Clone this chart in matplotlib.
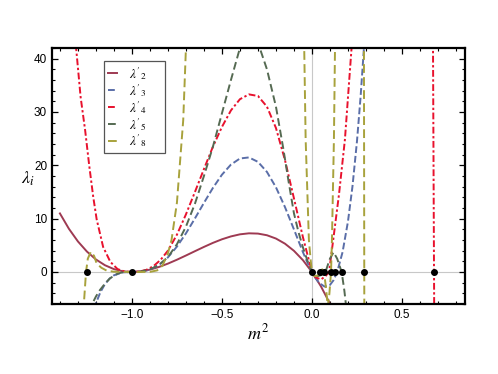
import matplotlib
matplotlib.use("Agg")
import matplotlib.pyplot as plt
from matplotlib.ticker import MultipleLocator

plt.rcParams['font.family'] = ['Liberation Sans', 'DejaVu Sans']
plt.rcParams['mathtext.fontset'] = 'stix'

# curves (m^2, lambda)
m2 = [-1.4, -1.35, -1.3, -1.25, -1.2, -1.15, -1.1, -1.05, -1.0, -0.95, -0.9,
      -0.85, -0.8, -0.75, -0.7, -0.65, -0.6, -0.55, -0.5, -0.45, -0.4, -0.35,
      -0.3, -0.25, -0.2, -0.15, -0.1, -0.05, 0.0, 0.05, 0.1, 0.12]
l2 = [10.98, 8.10, 5.73, 3.83, 2.35, 1.27, 0.54, 0.13, 0.0, 0.12, 0.44,
      0.94, 1.57, 2.30, 3.09, 3.90, 4.70, 5.46, 6.13, 6.67, 7.06, 7.25,
      7.20, 6.89, 6.27, 5.31, 3.97, 2.21, 0.0, -2.70, -5.93, -7.38]

m3 = [-1.21, -1.2, -1.175, -1.15, -1.125, -1.1, -1.05, -1.0, -0.95, -0.9,
      -0.85, -0.8, -0.75, -0.7, -0.65, -0.6, -0.55, -0.5, -0.45, -0.4, -0.35,
      -0.3, -0.25, -0.2, -0.15, -0.1, -0.05, -0.025, 0.0, 0.02, 0.04, 0.07,
      0.1, 0.12, 0.14, 0.17, 0.2, 0.225, 0.25, 0.27, 0.29, 0.3]
l3 = [-6.90, -5.87, -3.78, -2.28, -1.27, -0.62, -0.07, 0.0, 0.06, 0.43,
      1.30, 2.74, 4.76, 7.24, 10.04, 12.96, 15.77, 18.24, 20.14, 21.28, 21.48,
      20.65, 18.76, 15.88, 12.18, 7.98, 3.71, 1.74, 0.0, -1.16, -2.05, -2.74,
      -2.43, -1.54, 0.0, 3.72, 9.46, 16.03, 24.49, 32.79, 42.6, 48.1]

m4 = [-1.32, -1.31, -1.285, -1.26, -1.237, -1.215, -1.196, -1.16, -1.12, -1.08,
      -1.04, -1.0, -0.96, -0.92, -0.88, -0.84, -0.8, -0.75, -0.7, -0.65, -0.6,
      -0.55, -0.5, -0.45, -0.4, -0.35, -0.3, -0.25, -0.2, -0.15, -0.1, -0.05,
      0.0, 0.02, 0.05, 0.075, 0.095, 0.118, 0.15, 0.183, 0.22, 0.26, 0.4, 0.6,
      0.67, 0.678, 0.686]
l4 = [48, 42, 32.8, 26.6, 19.9, 14.1, 9.9, 4.7, 1.9, 0.55,
      0.08, 0.0, 0.08, 0.4, 1.1, 2.3, 4.0, 7.0, 10.8, 15.0, 19.3,
      23.5, 27.2, 30.3, 32.4, 33.3, 33.0, 31.0, 27.0, 21.0, 13.8, 6.5,
      0.0, -1.0, -1.4, -0.8, 0.0, 6.0, 14.5, 24.8, 42.0, 70, 150, 150,
      60, 0.0, -60]

m5 = [-1.235, -1.221, -1.2, -1.178, -1.15, -1.122, -1.1, -1.076, -1.05, -1.0,
      -0.95, -0.9, -0.85, -0.8, -0.75, -0.7, -0.65, -0.6, -0.55, -0.51, -0.45,
      -0.4, -0.34, -0.29, -0.25, -0.2, -0.16, -0.13, -0.1, -0.075, -0.05,
      -0.025, 0.0, 0.03, 0.05, 0.08, 0.1, 0.12, 0.14, 0.165, 0.18, 0.19]
l5 = [-7.5, -6.0, -4.6, -3.4, -2.2, -1.2, -0.7, -0.25, -0.06, 0.0,
      0.1, 0.5, 1.3, 2.8, 5.2, 8.5, 12.8, 18.0, 23.5, 28.5, 36.0,
      42.0, 44.5, 42.0, 38.0, 31.0, 23.3, 17.0, 11.0, 7.5, 4.6,
      2.1, 0.0, -0.8, -0.6, 0.5, 2.5, 3.7, 2.5, 0.0, -3.5, -6.5]

m8 = [-1.275, -1.267, -1.255, -1.245, -1.228, -1.21, -1.196, -1.17, -1.14,
      -1.1, -1.0, -0.9, -0.86, -0.83, -0.8, -0.78, -0.75, -0.715, -0.70, -0.69,
      -0.5, -0.2, -0.05, -0.043, -0.035, -0.017, -0.008, 0.0, 0.015, 0.03,
      0.047, 0.057, 0.067, 0.078, 0.088, 0.097, 0.106, 0.111, 0.122, 0.128,
      0.15, 0.2, 0.28, 0.288, 0.2905, 0.293]
l8 = [-10, -6.0, 0.0, 2.5, 3.8, 3.0, 1.6, 0.8, 0.25,
      0.05, 0.0, 0.02, 0.3, 1.2, 3.5, 6.0, 13.0, 28.5, 42.0, 55,
      200, 200, 60, 42.0, 24.8, 6.0, 2.5, 0.0, -0.8, -0.7,
      0.0, 0.5, 0.0, -3.0, -6.5, -4.0, 0.0, 6.0, 24.8, 42.0,
      100, 200, 100, 60, 0.0, -60]

roots = [-1.25, -1.0, 0.0, 0.047, 0.067, 0.106, 0.13, 0.165, 0.29, 0.678]

fig = plt.figure(figsize=(4.98, 3.74), dpi=100)
ax = fig.add_axes([0.1044, 0.1872, 0.8293, 0.6845])

ax.axhline(0, color='#c8c8c8', lw=0.8, zorder=0)
ax.axvline(0, color='#c8c8c8', lw=0.8, zorder=0)

pad = '\u2002\u2002\u2002'
ax.plot(m2, l2, color='#9e3a52', lw=1.4, label=r"$\lambda'_2$" + pad)
ax.plot(m3, l3, color='#5a6ea8', lw=1.4, dashes=(3.5, 1.5), label=r"$\lambda'_3$" + pad)
ax.plot(m4, l4, color='#e8112d', lw=1.4, dashes=(3.5, 1.3, 1.2, 1.3), label=r"$\lambda'_4$" + pad)
ax.plot(m5, l5, color='#556a52', lw=1.4, dashes=(4, 2), label=r"$\lambda'_5$" + pad)
ax.plot(m8, l8, color='#a8a23c', lw=1.4, dashes=(4.5, 2.2), label=r"$\lambda'_8$" + pad)

ax.plot(roots, [0] * len(roots), 'o', color='black', ms=4, zorder=5)

ax.set_xlim(-1.444, 0.85)
ax.set_ylim(-6, 42)

ax.xaxis.set_major_locator(MultipleLocator(0.5))
ax.xaxis.set_minor_locator(MultipleLocator(0.1))
ax.yaxis.set_major_locator(MultipleLocator(10))
ax.yaxis.set_minor_locator(MultipleLocator(2))
ax.xaxis.set_major_formatter(plt.FuncFormatter(
    lambda v, p: ('%.1f' % v).replace('-', '\u2212') if abs(v) > 1e-9 else '0.0'))
ax.tick_params(which='both', direction='in', top=True, right=True, labelsize=8.5)
ax.tick_params(which='major', length=4, width=0.9)
ax.tick_params(which='minor', length=2.2, width=0.8)
for s in ax.spines.values():
    s.set_linewidth(1.6)

ax.set_xlabel(r'$m^2$', fontsize=13, labelpad=2)
ax.set_ylabel(r'$\lambda_i$', fontsize=13, rotation=0, va='center', ha='center')
ax.yaxis.set_label_coords(-0.058, 0.49)

leg = ax.legend(loc='upper left', bbox_to_anchor=(0.126, 0.949), borderaxespad=0,
                fontsize=9.5, handlelength=0.7, handletextpad=0.9, fancybox=False,
                framealpha=1, edgecolor='#555555', labelspacing=0.0,
                borderpad=0.3)
leg.get_frame().set_linewidth(0.9)

fig.savefig('out.png', dpi=100)
